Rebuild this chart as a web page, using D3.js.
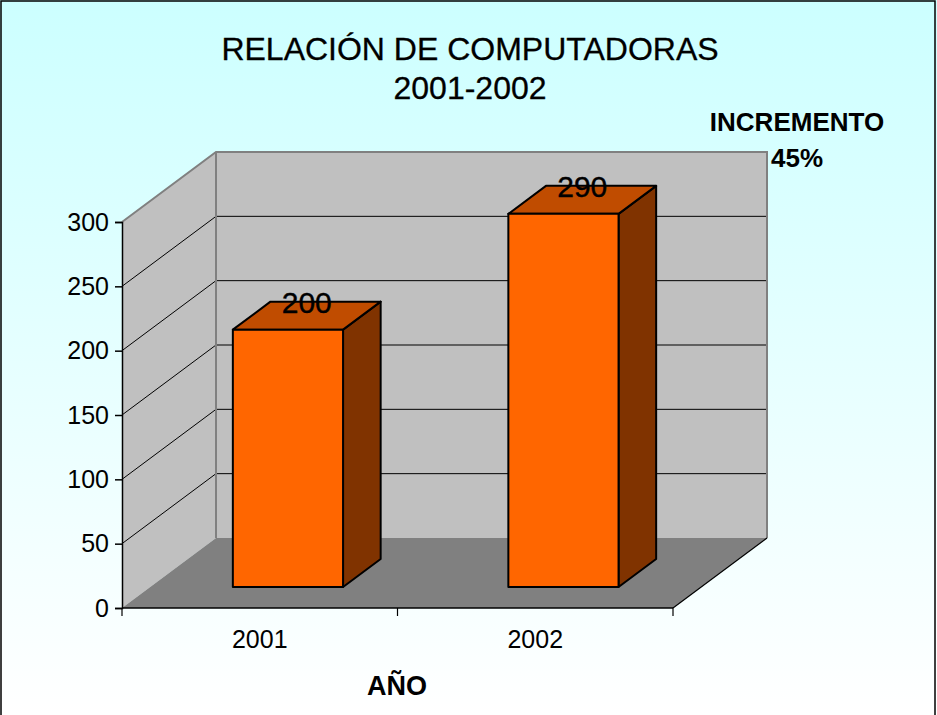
<!DOCTYPE html>
<html>
<head>
<meta charset="utf-8">
<script src="https://cdn.jsdelivr.net/npm/d3@7"></script>
<style>
  body { margin: 0; background: #fff; }
  svg { display: block; font-family: "Liberation Sans", Arial, sans-serif; }
</style>
</head>
<body>
<script>
// datos del grafico
const years = ["2001", "2002"]
const computers = [200, 290]
const yTicks = [0, 50, 100, 150, 200, 250, 300]
const titleLines = ["RELACIÓN DE COMPUTADORAS", "2001-2002"]
const noteLines = ["INCREMENTO", "45%"]
const xTitle = "AÑO"

const width = 937, height = 715
const svg = d3.select("body").append("svg")
  .attr("width", width).attr("height", height)

// fondo con degradado
const grad = svg.append("defs").append("linearGradient")
  .attr("id", "bg").attr("x1", 0).attr("y1", 0).attr("x2", 0).attr("y2", 1)
grad.append("stop").attr("offset", "0%").attr("stop-color", "#ccffff")
grad.append("stop").attr("offset", "100%").attr("stop-color", "#ffffff")
svg.append("rect").attr("width", width).attr("height", height).attr("fill", "url(#bg)")
svg.append("rect").attr("x", 1).attr("y", 1).attr("width", 934).attr("height", 730)
  .attr("fill", "none").attr("stroke", "#000").attr("stroke-width", 1.5)

// escalas
const left = 122, right = 673
const y = d3.scaleLinear().domain([0, 300]).range([608, 222])
const x = d3.scaleBand().domain(years).range([left, right])
const DX = 94, DY = -70 // profundidad del grafico 3D

const pt = (px, py, d) => [px + DX * d, py + DY * d]
const poly = pts => pts.map(p => p.join(",")).join(" ")

// pared lateral
svg.append("polygon")
  .attr("points", poly([pt(left, y(0), 0), pt(left, y(300), 0), pt(left, y(300), 1), pt(left, y(0), 1)]))
  .attr("fill", "#c0c0c0")
// pared del fondo
svg.append("polygon")
  .attr("points", poly([pt(left, y(0), 1), pt(left, y(300), 1), pt(right, y(300), 1), pt(right, y(0), 1)]))
  .attr("fill", "#c0c0c0")

// lineas de division
yTicks.filter(v => v > 0 && v < 300).forEach(v => {
  const a = pt(left, y(v), 0), b = pt(left, y(v), 1), c = pt(right, y(v), 1)
  svg.append("polyline").attr("points", poly([a, b, c]))
    .attr("fill", "none").attr("stroke", "#000").attr("stroke-width", 1)
})
// bordes grises de las paredes
svg.append("polyline")
  .attr("points", poly([pt(left, y(300), 0), pt(left, y(300), 1), pt(right, y(300), 1), pt(right, y(0), 1)]))
  .attr("fill", "none").attr("stroke", "#808080").attr("stroke-width", 2)
svg.append("line")
  .attr("x1", pt(left, 0, 1)[0]).attr("x2", pt(left, 0, 1)[0])
  .attr("y1", pt(0, y(300), 1)[1]).attr("y2", pt(0, y(0), 1)[1])
  .attr("stroke", "#808080").attr("stroke-width", 2)

// piso
svg.append("polygon")
  .attr("points", poly([pt(left, y(0), 0), pt(right, y(0), 0), pt(right, y(0), 1), pt(left, y(0), 1)]))
  .attr("fill", "#808080")
svg.append("line")
  .attr("x1", right).attr("y1", y(0))
  .attr("x2", pt(right, 0, 1)[0]).attr("y2", pt(0, y(0), 1)[1])
  .attr("stroke", "#000").attr("stroke-width", 1.2)

// barras
const bw = x.bandwidth() * 0.4
const d0 = 0.3, d1 = 0.7
const bars = svg.selectAll(".bar").data(years.map((k, i) => ({ k, v: computers[i] })))
  .enter().append("g").attr("class", "bar")
bars.each(function(d) {
  const g = d3.select(this)
  const x0 = x(d.k) + (x.bandwidth() - bw) / 2, x1 = x0 + bw
  const yb = y(0), yt = y(d.v)
  const style = s => s.attr("stroke", "#000").attr("stroke-width", 2).attr("stroke-linejoin", "round")
  // cara lateral
  g.append("polygon").call(style).attr("fill", "#803300")
    .attr("points", poly([pt(x1, yb, d0), pt(x1, yt, d0), pt(x1, yt, d1), pt(x1, yb, d1)]))
  // tapa
  g.append("polygon").call(style).attr("fill", "#c04c00")
    .attr("points", poly([pt(x0, yt, d0), pt(x1, yt, d0), pt(x1, yt, d1), pt(x0, yt, d1)]))
  // frente
  g.append("polygon").call(style).attr("fill", "#ff6600")
    .attr("points", poly([pt(x0, yb, d0), pt(x1, yb, d0), pt(x1, yt, d0), pt(x0, yt, d0)]))
  // etiqueta
  const c0 = pt(x0, yt, d0), c1 = pt(x1, yt, d1)
  g.append("text")
    .attr("x", (c0[0] + c1[0]) / 2).attr("y", c1[1] + 11)
    .attr("text-anchor", "middle").attr("font-size", 30).attr("fill", "#000")
    .attr("stroke", "#000").attr("stroke-width", 0.4)
    .text(d.v)
})

// ejes
const yAxis = d3.axisLeft(y).tickValues(yTicks).tickSize(7).tickPadding(6)
svg.append("g").attr("transform", `translate(${left},0)`).call(yAxis)
  .call(g => g.select(".domain").attr("stroke-width", 1.5))
  .call(g => g.selectAll(".tick line").attr("stroke-width", 1.5))
  .call(g => g.selectAll("text").attr("font-size", 25).attr("font-family", "Liberation Sans, Arial, sans-serif").attr("fill", "#000"))

svg.append("line").attr("x1", left).attr("x2", right).attr("y1", y(0)).attr("y2", y(0))
  .attr("stroke", "#000").attr("stroke-width", 1.5)
const xTickPos = [left, ...years.slice(1).map(k => x(k)), right]
svg.selectAll(".xtick").data(xTickPos).enter().append("line")
  .attr("x1", d => d).attr("x2", d => d).attr("y1", y(0)).attr("y2", y(0) + 8)
  .attr("stroke", "#000").attr("stroke-width", 1.2)
svg.selectAll(".xlab").data(years).enter().append("text")
  .attr("x", d => x(d) + x.bandwidth() / 2).attr("y", 648)
  .attr("text-anchor", "middle").attr("font-size", 25).text(d => d)

// titulos
svg.selectAll(".title").data(titleLines).enter().append("text")
  .attr("x", 470).attr("y", (d, i) => 60 + i * 39)
  .attr("text-anchor", "middle").attr("font-size", 32)
  .attr("stroke", "#000").attr("stroke-width", 0.3).text(d => d)
svg.selectAll(".note").data(noteLines).enter().append("text")
  .attr("x", 797).attr("y", (d, i) => 131 + i * 36)
  .attr("text-anchor", "middle").attr("font-size", 26).attr("font-weight", "bold").text(d => d)
svg.append("text").attr("x", 397).attr("y", 695)
  .attr("text-anchor", "middle").attr("font-size", 27).attr("font-weight", "bold").text(xTitle)
</script>
</body>
</html>
